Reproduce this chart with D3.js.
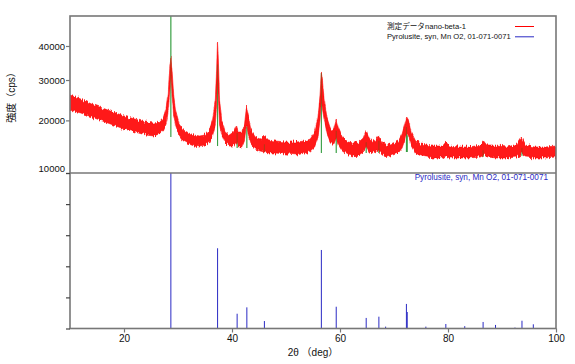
<!DOCTYPE html>
<html><head><meta charset="utf-8">
<script src="https://cdn.jsdelivr.net/npm/d3@7"></script>
<style>
html,body{margin:0;padding:0;background:#fff;}
svg{display:block;}
text{font-family:"Liberation Sans","Noto Sans CJK JP",sans-serif;}
</style></head>
<body>
<svg id="chart" width="575" height="364"></svg>
<script>
// Measured pattern (envelope of the noisy trace): 2θ, upper and lower intensity (cps)
const scanAngle = [10,12,14,16,18,20,22,24,25.5,26.5,27.3,27.8,28.2,28.5,28.7,28.9,29.2,29.6,30.2,31,32,33,34,35,35.8,36.4,36.9,37.15,37.3,37.45,37.7,38.1,38.7,39.5,40.3,40.8,41.2,41.8,42.3,42.7,43.0,43.5,44.3,45.2,46.0,46.8,48,50,52,53.5,54.5,55.3,55.9,56.3,56.55,56.75,57.1,57.6,58.2,58.8,59.3,59.7,60.4,61.5,62.5,63.5,64.3,64.85,65.4,66.2,67.1,67.8,68.8,69.8,70.8,71.5,72.0,72.35,72.7,73.2,74,75,77,79,79.6,80.3,82,84,86,86.6,87.3,89,91,92.8,93.6,94.3,96,98,100];
const scanHigh = [26060,25050,23820,22860,21910,20990,20310,19640,19420,19640,20760,22860,26820,33950,36310,32800,26060,21910,19200,17920,17290,16880,16680,16880,17920,20090,24800,32800,41260,37210,24800,20090,17500,16880,17500,18770,17290,17290,18990,23330,21220,17920,16470,16070,16680,15870,15675,15480,15480,15675,16070,17500,20540,26060,31950,30010,24800,20540,18340,17920,20090,18340,16470,15480,15280,15480,16270,17920,16270,15480,16680,15480,14900,15280,15675,17085,19200,20760,20090,17500,15675,15090,14700,14700,15480,14700,14510,14510,14900,15675,14700,14700,14510,15090,16470,14900,14510,14510,14700];
const scanLow = [22380,21680,20760,19860,18990,18130,17500,16880,16680,17085,17920,19200,22380,27340,31390,26060,21220,18770,16880,15675,15090,14700,14510,14700,15480,16680,18990,23570,30010,26060,18990,16880,15280,14700,14700,15480,14510,14510,15870,18990,16880,15090,14140,13760,13580,13400,13400,13220,13030,13400,13760,14510,16270,20090,24800,22860,20090,17085,15480,14900,16270,14900,13760,13030,12860,13030,13580,14700,13580,13400,13950,13220,12680,13030,13400,14320,15870,17500,16880,14900,13400,12860,12500,12500,12860,12500,12500,12500,12680,13030,12680,12500,12500,12680,13220,12680,12500,12500,12680];

// Reference card Pyrolusite, syn, MnO2, 01-071-0071: 2θ and relative intensity (%)
const refAngle = [28.68,37.33,40.95,42.75,46.0,56.55,59.3,64.85,67.2,68.45,72.3,72.45,75.9,79.6,83.1,86.5,88.8,92.4,93.7,95.8];
const refIntensity = [100,51.6,9.5,13.6,4.8,50.5,14,6.8,7.6,1.2,15.8,10.6,1.2,2.9,1.5,4.2,2.3,0.6,5,2.7];
// background level (cps) under each reference marker in the upper panel
const refBase = [16470,14700,14320,14320,13580,13400,13400,13400,13400,12900,13580,13580,12700,12700,12700,12700,12700,12700,12900,12700];

const xTicks = [20,40,60,80,100];
const yTicksTop = [10000,20000,30000,40000];
const yTicksBottom = [0,20,40,60,80,100];

const legendLabels = ["測定データnano-beta-1","Pyrolusite, syn, Mn O2, 01-071-0071"];
const cardLabel = "Pyrolusite, syn, Mn O2, 01-071-0071";
const yTitle = "強度（cps）";
const xTitle = "2θ （deg）";

const svg = d3.select("#chart");
const L = 70, R = 556, T = 16, MID = 173, B = 328.5;
const axisCol = "#777";

const x = d3.scaleLinear().domain([10,100]).range([L,R]);
const yTop = d3.scaleSqrt().domain([10000,50000]).range([MID,T]);
const yBot = d3.scaleLinear().domain([0,100]).range([B,MID]);
const markLen = d3.scaleLinear().domain([0,100]).range([0,158]);

const defs = svg.append("defs");
defs.append("clipPath").attr("id","clipTop").append("rect")
  .attr("x",L).attr("y",T).attr("width",R-L).attr("height",MID-T);
// jagged edge texture for the noisy trace (vertical displacement only)
const flt = defs.append("filter").attr("id","rough")
  .attr("x","-2%").attr("y","-10%").attr("width","104%").attr("height","120%");
flt.append("feTurbulence").attr("type","fractalNoise").attr("baseFrequency","1.1 0.08")
  .attr("numOctaves",2).attr("seed",3).attr("result","noise");
flt.append("feColorMatrix").attr("in","noise").attr("type","matrix")
  .attr("values","0 0 0 0 0.5  0 1 0 0 0  0 0 1 0 0  0 0 0 0 1").attr("result","nmap");
flt.append("feDisplacementMap").attr("in","SourceGraphic").attr("in2","nmap")
  .attr("scale",7).attr("xChannelSelector","R").attr("yChannelSelector","G");

const upper = svg.append("g").attr("clip-path","url(#clipTop)");
const scan = scanAngle.map((a,i)=>({a, hi:scanHigh[i], lo:scanLow[i]}));
const refs = refAngle.map((a,i)=>({a, r:refIntensity[i], base:refBase[i]}));
const bigRefs = refs.filter(d=>d.r>=4);

// green reference markers under the trace
upper.selectAll("line.ref").data(bigRefs).join("line").attr("class","ref")
  .attr("x1",d=>x(d.a)).attr("x2",d=>x(d.a))
  .attr("y1",d=>yTop(d.base)).attr("y2",d=>yTop(d.base)-markLen(d.r))
  .attr("stroke","#2f9a3a").attr("stroke-width",1);

upper.append("g").attr("filter","url(#rough)").append("path").datum(scan)
  .attr("d", d3.area().x(d=>x(d.a)).y0(d=>yTop(d.lo)).y1(d=>yTop(d.hi)))
  .attr("fill","#ff0000").attr("fill-opacity",0.9)
  .attr("stroke","#ff0000").attr("stroke-width",0.6).attr("stroke-opacity",0.9);

// green markers faintly visible through the trace
upper.selectAll("line.ref2").data(bigRefs).join("line").attr("class","ref2")
  .attr("x1",d=>x(d.a)).attr("x2",d=>x(d.a))
  .attr("y1",d=>yTop(d.base)).attr("y2",d=>yTop(d.base)-markLen(d.r))
  .attr("stroke","#2f9a3a").attr("stroke-width",1).attr("stroke-opacity",0.3);

// bottom sticks
svg.selectAll("line.stick").data(refs).join("line").attr("class","stick")
  .attr("x1",d=>x(d.a)).attr("x2",d=>x(d.a))
  .attr("y1",yBot(0)).attr("y2",d=>yBot(d.r))
  .attr("stroke","#2a2ac4").attr("stroke-width",1);

// frame
const frame = svg.append("g").attr("fill","none").attr("stroke",axisCol).attr("stroke-width",1.6);
frame.append("rect").attr("x",L).attr("y",T).attr("width",R-L).attr("height",B-T);
frame.append("line").attr("x1",L).attr("x2",R).attr("y1",MID).attr("y2",MID);

// axes
const gy = svg.append("g").attr("transform",`translate(${L},0)`)
  .call(d3.axisLeft(yTop).tickValues(yTicksTop).tickSize(4).tickPadding(1).tickFormat(d3.format("d")));
gy.select(".domain").remove();
gy.selectAll("line").attr("stroke",axisCol).attr("stroke-width",1.2);
gy.selectAll("text").attr("font-size","9.5px").attr("fill","#111");
// lowest label sits just inside the upper panel
gy.selectAll("text").filter(d=>d===yTicksTop[0]).attr("dy","-0.2em");

const gy2 = svg.append("g").attr("transform",`translate(${L},0)`)
  .call(d3.axisLeft(yBot).tickValues(yTicksBottom).tickSize(4).tickFormat(""));
gy2.select(".domain").remove();
gy2.selectAll("line").attr("stroke","#444").attr("stroke-width",1.2);

const gx = svg.append("g").attr("transform",`translate(0,${B})`)
  .call(d3.axisBottom(x).tickValues(xTicks).tickSize(4).tickPadding(2).tickFormat(d3.format("d")));
gx.select(".domain").remove();
gx.selectAll("line").attr("stroke",axisCol).attr("stroke-width",1.2);
gx.selectAll("text").attr("font-size","10px").attr("fill","#111");

// titles
svg.append("text").attr("transform","translate(15,95) rotate(-90)")
  .attr("text-anchor","middle").attr("font-size","10px").attr("fill","#111").text(yTitle);
svg.append("text").attr("x",313).attr("y",356)
  .attr("text-anchor","middle").attr("font-size","10px").attr("fill","#111").text(xTitle);

// legend
const lg = svg.append("g");
const legendCols = ["#ff0000","#2a2ac4"];
legendLabels.forEach((t,i)=>{
  const yy = 26.5 + i*10.3;
  lg.append("text").attr("x",387).attr("y",yy+2.6).attr("font-size","7.6px").attr("fill","#111").text(t);
  lg.append("line").attr("x1",515).attr("x2",534).attr("y1",yy).attr("y2",yy)
    .attr("stroke",legendCols[i]).attr("stroke-width",1);
});

svg.append("text").attr("x",548).attr("y",180).attr("text-anchor","end")
  .attr("font-size","8.2px").attr("fill","#2a2ac4").text(cardLabel);
</script>
</body></html>
